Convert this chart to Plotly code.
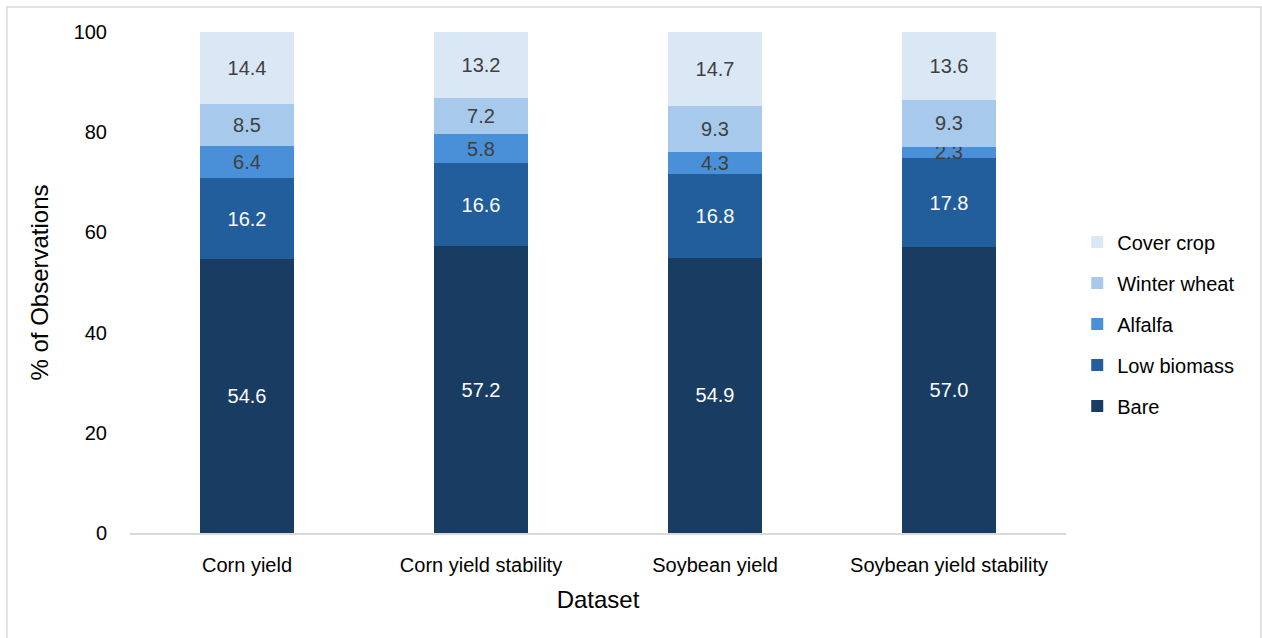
import plotly.graph_objects as go

# Datasets on the x axis
datasets = ["Corn yield", "Corn yield stability", "Soybean yield", "Soybean yield stability"]

# Percent of observations per land-cover class (stacked bottom to top)
bare = [54.6, 57.2, 54.9, 57.0]
low_biomass = [16.2, 16.6, 16.8, 17.8]
alfalfa = [6.4, 5.8, 4.3, 2.3]
winter_wheat = [8.5, 7.2, 9.3, 9.3]
cover_crop = [14.4, 13.2, 14.7, 13.6]

y_ticks = [0, 20, 40, 60, 80, 100]

series = [
    ("Bare", bare, "#183C62", "white"),
    ("Low biomass", low_biomass, "#215E9B", "white"),
    ("Alfalfa", alfalfa, "#4A90D8", "#404040"),
    ("Winter wheat", winter_wheat, "#A7CAEC", "#404040"),
    ("Cover crop", cover_crop, "#DAE8F6", "#404040"),
]

FONT = "Liberation Sans, Arial, sans-serif"

fig = go.Figure()
for i, (name, vals, color, txtcolor) in enumerate(series):
    fig.add_trace(go.Bar(
        x=datasets, y=vals, name=name, legendgroup=name,
        legendrank=len(series) - i,  # top of stack listed first
        marker=dict(color=color, line=dict(width=0)),
        text=[f"{v:.1f}" for v in vals],
        textposition="inside", insidetextanchor="middle", textangle=0,
        textfont=dict(family=FONT, size=20, color=txtcolor),
        hoverinfo="skip",
    ))

L, R, T, B = 130, 196, 32, 105
W, H = 1262, 638
pw, ph = W - L - R, H - T - B

def px_x(p):
    return (p - L) / pw

def px_y(p):
    return (H - B - p) / ph

fig.update_layout(
    width=W, height=H,
    margin=dict(l=L, r=R, t=T, b=B),
    barmode="stack", bargap=0.6,
    plot_bgcolor="white", paper_bgcolor="white",
    uniformtext=dict(minsize=20, mode="show"),
    font=dict(family=FONT, color="black"),
    legend=dict(
        traceorder="grouped", tracegroupgap=12,
        x=1.012, xanchor="left", y=0.417, yanchor="middle",
        font=dict(size=20, color="black"),
        itemwidth=30,
    ),
    xaxis=dict(
        showgrid=False, showline=True, linecolor="#D9D9D9", linewidth=2,
        ticks="", tickfont=dict(size=20),
        ticklabelstandoff=13,
        title=dict(text="Dataset", font=dict(size=24), standoff=16),
    ),
    yaxis=dict(
        range=[0, 100], tickvals=y_ticks, showgrid=False, showline=False, zeroline=False,
        tickfont=dict(size=20), ticks="", ticklabelstandoff=22,
        title=dict(text="% of Observations", font=dict(size=24), standoff=18),
    ),
    shapes=[dict(
        type="rect", xref="paper", yref="paper",
        x0=px_x(7), x1=px_x(1261), y0=px_y(645), y1=px_y(7),
        line=dict(color="#D9D9D9", width=1.5), fillcolor="rgba(0,0,0,0)", layer="below",
    )],
)

fig.write_html("out.html")
